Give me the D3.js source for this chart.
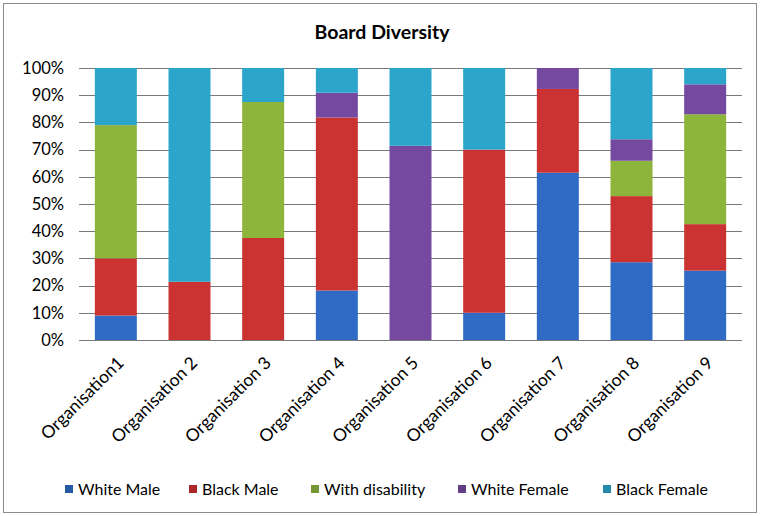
<!DOCTYPE html>
<html>
<head>
<meta charset="utf-8">
<script src="https://cdn.jsdelivr.net/npm/d3@7"></script>
<style>
  html, body { margin: 0; padding: 0; background: #fff; }
  svg { display: block; font-family: Lato, "Open Sans", sans-serif; }
</style>
</head>
<body>
<svg id="chart" width="761" height="516"></svg>
<script>
// Board composition per organisation (percent of members)
const categories = ["Organisation1", "Organisation 2", "Organisation 3", "Organisation 4",
  "Organisation 5", "Organisation 6", "Organisation 7", "Organisation 8", "Organisation 9"];
const whiteMale      = [9,    0,    0,    18.2, 0,    10, 61.5, 28.6, 25.5];
const blackMale      = [21,   21.4, 37.5, 63.6, 0,    60, 30.8, 24.3, 17.1];
const withDisability = [49,   0,    50,   0,    0,    0,  0,    13,   40.4];
const whiteFemale    = [0,    0,    0,    9.1,  71.4, 0,  7.7,  7.9,  11];
const blackFemale    = [21,   78.6, 12.5, 9.1,  28.6, 30, 0,    26.2, 6];
const seriesNames = ["White Male", "Black Male", "With disability", "White Female", "Black Female"];
const yTicks = [0, 0.1, 0.2, 0.3, 0.4, 0.5, 0.6, 0.7, 0.8, 0.9, 1];

const colors = ["#2F6BC4", "#CB3232", "#8DB43B", "#7649A0", "#2CA5CB"];
const seriesValues = [whiteMale, blackMale, withDisability, whiteFemale, blackFemale];

const rows = categories.map((c, i) => {
  const r = { category: c };
  seriesNames.forEach((s, k) => { r[s] = seriesValues[k][i]; });
  return r;
});

const stack = d3.stack().keys(seriesNames).offset(d3.stackOffsetExpand);
const layers = stack(rows);

const svg = d3.select("#chart");

// outer frame
svg.append("rect")
  .attr("x", 3.5).attr("y", 3.5).attr("width", 753).attr("height", 509)
  .attr("fill", "#fff").attr("stroke", "#8c8c8c").attr("stroke-width", 1);

const plot = { left: 79, right: 742, top: 68, bottom: 340 };

const x = d3.scaleBand().domain(categories)
  .range([plot.left, plot.right])
  .paddingInner(0.43).paddingOuter(0.215);
const y = d3.scaleLinear().domain([0, 1]).range([plot.bottom, plot.top]);

// title
svg.append("text")
  .attr("x", 382).attr("y", 39)
  .attr("text-anchor", "middle")
  .attr("font-weight", "bold").attr("font-size", 19.5)
  .attr("fill", "#000")
  .text("Board Diversity");

// gridlines and y axis labels
const yAxis = d3.axisLeft(y).tickValues(yTicks)
  .tickFormat(d3.format(".0%"))
  .tickSize(-(plot.right - plot.left)).tickPadding(15);
const gy = svg.append("g").attr("transform", `translate(${plot.left},0)`).call(yAxis);
gy.select(".domain").remove();
gy.selectAll(".tick line").attr("stroke", "#7a7a7a").attr("stroke-width", 1)
  .attr("shape-rendering", "crispEdges");
gy.selectAll(".tick text").attr("font-size", 16.5).attr("fill", "#000")
  .attr("font-family", "Lato, sans-serif");

// stacked bars
svg.append("g").selectAll("g").data(layers).join("g")
  .attr("fill", (d, i) => colors[i])
  .selectAll("rect").data(d => d).join("rect")
  .attr("x", d => x(d.data.category))
  .attr("width", x.bandwidth())
  .attr("y", d => y(d[1]))
  .attr("height", d => y(d[0]) - y(d[1]));

// redraw baseline on top
svg.append("line")
  .attr("x1", plot.left).attr("x2", plot.right)
  .attr("y1", plot.bottom + 0.5).attr("y2", plot.bottom + 0.5)
  .attr("stroke", "#7a7a7a");

// category labels, rotated
const xAxis = d3.axisBottom(x).tickSize(0).tickPadding(0);
const gx = svg.append("g").attr("transform", `translate(0,${plot.bottom})`).call(xAxis);
gx.select(".domain").remove();
gx.selectAll(".tick text")
  .attr("font-size", 17.5).attr("fill", "#000")
  .attr("font-family", "Lato, sans-serif")
  .attr("text-anchor", "end")
  .attr("dy", 0)
  .attr("transform", "translate(9,24) rotate(-45)");

// legend
const legendX = [65, 189, 311, 458, 603];
const lg = svg.append("g").selectAll("g").data(seriesNames).join("g")
  .attr("transform", (d, i) => `translate(${legendX[i]},489)`);
lg.append("rect").attr("x", 0).attr("y", -4).attr("width", 8).attr("height", 8)
  .attr("fill", (d, i) => d3.color(colors[i]).darker(0.5));
lg.append("text").attr("x", 13).attr("y", 0).attr("dy", "0.35em")
  .attr("font-size", 16).attr("fill", "#000")
  .text(d => d);
</script>
</body>
</html>
